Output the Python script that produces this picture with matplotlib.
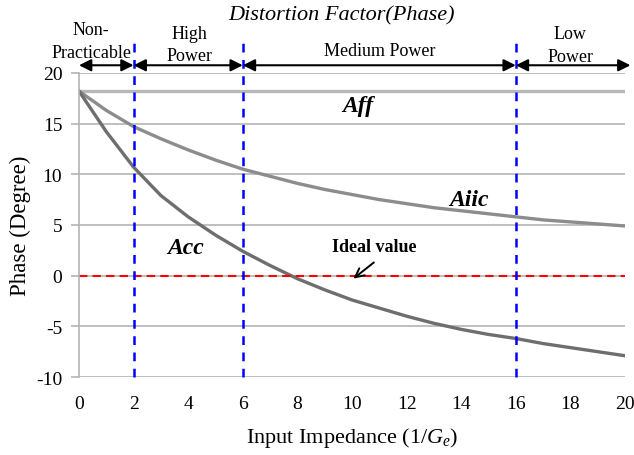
import matplotlib.pyplot as plt

# impedance steps and phase curves
x = list(range(21))
aff = [18.2] * 21
aiic = [18.2, 16.3, 14.7, 13.5, 12.4, 11.4, 10.5, 9.8, 9.1, 8.5, 8.0,
        7.5, 7.1, 6.7, 6.4, 6.1, 5.8, 5.5, 5.3, 5.1, 4.9]
acc = [18.2, 14.2, 10.7, 7.9, 5.8, 4.0, 2.4, 1.0, -0.3, -1.4, -2.4,
       -3.2, -4.0, -4.7, -5.3, -5.8, -6.2, -6.7, -7.1, -7.5, -7.9]

bounds = [0, 2, 6, 16, 20.2]
regions = ['Non-\nPracticable', 'High\nPower', 'Medium Power', 'Low\nPower']
region_x = [0.45, 4.05, 11.0, 18.0]
region_y = [23.15, 22.8, 22.25, 22.75]

plt.rcParams['font.family'] = 'Liberation Serif'
plt.rcParams['axes.unicode_minus'] = False
plt.rcParams['mathtext.fontset'] = 'custom'
plt.rcParams['mathtext.rm'] = 'Liberation Serif'
plt.rcParams['mathtext.it'] = 'Liberation Serif:italic'

fig = plt.figure(figsize=(6.34, 4.56), dpi=100)
ax = fig.add_axes([0.1246, 0.171, 0.8612, 0.667])

for yv in range(-10, 21, 5):
    ax.axhline(yv, color='#b4b4b4', lw=1.2, zorder=0)

ax.plot(x, aff, color='#b8b8b8', lw=2.4)
ax.plot(x, aiic, color='#8c8c8c', lw=2.4)
ax.plot(x, acc, color='#6e6e6e', lw=2.4)
ax.plot([0, 20], [0, 0], color='red', ls='--', lw=1.5, dashes=(4, 2.5))

for xv in bounds[1:4]:
    ax.plot([xv, xv], [-10, 23], color='blue', ls='--', lw=1.8,
            dashes=(3.5, 3), clip_on=False)

# double arrows marking each operating region
for a, b in zip(bounds[:-1], bounds[1:]):
    ax.annotate('', xy=(b, 20.75), xytext=(a, 20.75), annotation_clip=False,
                arrowprops=dict(arrowstyle='<|-|>', color='black', lw=1.5,
                                mutation_scale=18, shrinkA=0, shrinkB=0))
for lbl, xv, yv in zip(regions, region_x, region_y):
    ax.text(xv, yv, lbl, ha='center', va='center', fontsize=13,
            linespacing=1.4, clip_on=False)

ax.text(10.2, 16.75, 'Aff', fontsize=17, fontweight='bold', fontstyle='italic',
        ha='center', va='center')
ax.text(14.3, 7.5, 'Aiic', fontsize=17, fontweight='bold', fontstyle='italic',
        ha='center', va='center')
ax.text(3.9, 2.8, 'Acc', fontsize=17, fontweight='bold', fontstyle='italic',
        ha='center', va='center')
ax.text(10.8, 2.9, 'Ideal value', fontsize=13, fontweight='bold',
        ha='center', va='center')
ax.annotate('', xy=(10.05, -0.3), xytext=(10.8, 1.3),
            arrowprops=dict(arrowstyle='->', color='black', lw=1.4,
                            mutation_scale=16, shrinkA=0, shrinkB=0))

fig.text(0.538, 0.966, 'Distortion Factor(Phase)', fontsize=16,
         fontstyle='italic', ha='center', va='center')

ax.set_xlim(0, 20)
ax.set_ylim(-10, 20)
ax.set_xticks(range(0, 21, 2))
ax.set_yticks(range(-10, 21, 5))
ax.tick_params(axis='x', length=0, pad=13, labelsize=14)
ax.tick_params(axis='y', length=6, color='#b4b4b4', width=1.2, labelsize=14, pad=6)
for s in ['top', 'right', 'bottom']:
    ax.spines[s].set_visible(False)
ax.spines['left'].set_color('#b4b4b4')
ax.spines['left'].set_linewidth(1.2)

ax.set_ylabel('Phase (Degree)', fontsize=16.5, labelpad=4)
ax.set_xlabel(r'Input Impedance (1/$G_{e}$)', fontsize=16, labelpad=9)

fig.savefig('out.png', dpi=100)
